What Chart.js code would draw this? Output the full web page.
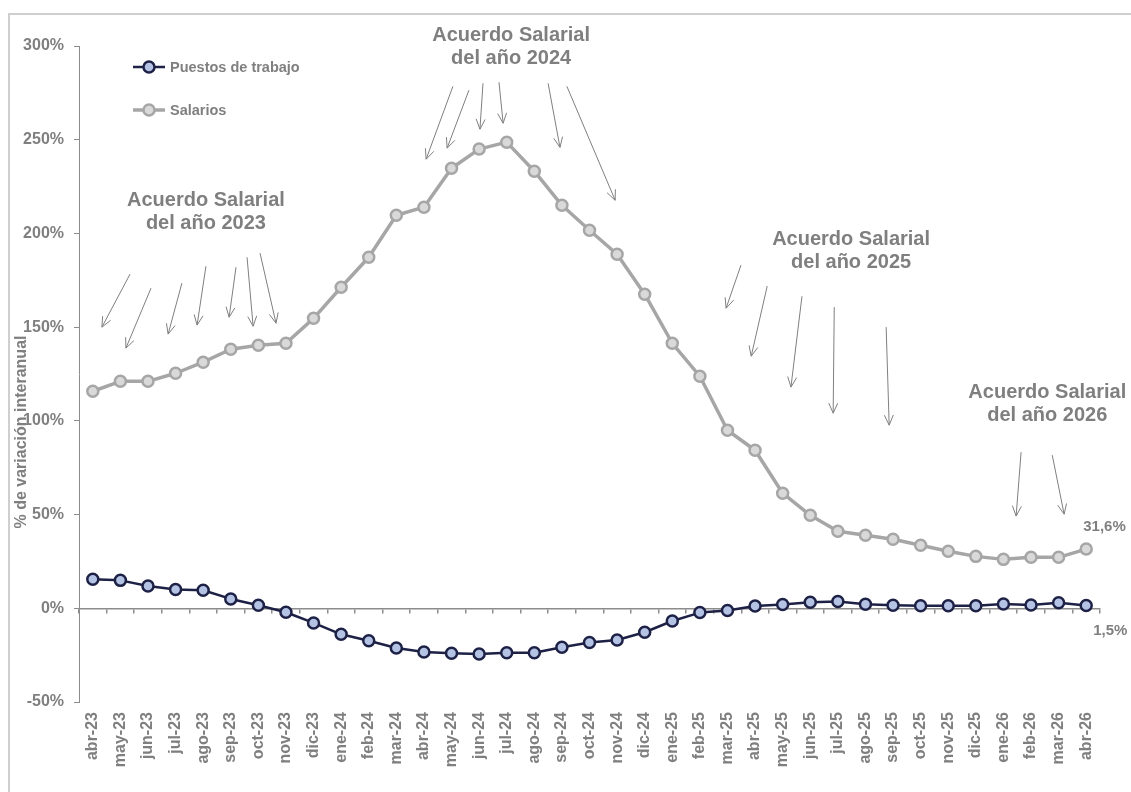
<!DOCTYPE html>
<html lang="es">
<head>
<meta charset="utf-8">
<title>Puestos de trabajo y salarios</title>
<script src="https://cdn.jsdelivr.net/npm/chart.js@4.4.1/dist/chart.umd.min.js"></script>
<style>
  body{margin:0;background:#fff;overflow:hidden}
  #marco{position:absolute;left:8px;top:13px;width:1200px;height:900px;border-left:2px solid #cfcfcf;border-top:2px solid #cfcfcf}
  #grafico{position:absolute;left:0;top:0}
</style>
</head>
<body>
<div id="marco"></div>
<canvas id="grafico" width="1131" height="792"></canvas>
<script>
const meses=['abr-23','may-23','jun-23','jul-23','ago-23','sep-23','oct-23','nov-23','dic-23',
  'ene-24','feb-24','mar-24','abr-24','may-24','jun-24','jul-24','ago-24','sep-24','oct-24','nov-24','dic-24',
  'ene-25','feb-25','mar-25','abr-25','may-25','jun-25','jul-25','ago-25','sep-25','oct-25','nov-25','dic-25',
  'ene-26','feb-26','mar-26','abr-26']

// % de variación interanual
const puestos=[15.5,14.9,11.9,10.0,9.6,5.0,1.6,-2.1,-7.8,
  -13.9,-17.3,-21.2,-23.3,-24.0,-24.4,-23.7,-23.7,-20.8,-18.3,-16.9,-12.8,
  -6.8,-2.3,-1.2,1.2,2.0,3.2,3.6,2.1,1.6,1.4,1.4,1.4,
  2.3,1.8,3.0,1.5]
const salarios=[115.8,121.1,121.1,125.4,131.3,138.2,140.3,141.4,154.7,
  171.3,187.3,209.7,214.0,234.8,245.0,248.7,233.2,215.0,201.7,188.9,167.6,
  141.4,123.8,95.0,84.3,61.4,49.6,41.1,39.0,36.8,33.6,30.4,27.7,
  26.1,27.2,27.2,31.6]

const anios=[2023,2024,2025,2026]

const gris='#7f7f7f'
const ejeColor='#8c8c8c'
const fuente='"Liberation Sans", Arial, sans-serif'

// rótulos de cada acuerdo, en unidades del gráfico (índice de mes, %)
const rotulos=[[4.1,211.6],[15.16,299.6],[27.48,190.5],[34.59,108.9]]

// flechas: mes y % de inicio, mes y % de la punta
const flechas=[
  [1.35,178.3,0.33,150.0],[2.11,170.8,1.20,138.8],[3.23,173.5,2.73,146.3],[4.10,182.5,3.78,151.1],
  [5.19,182.0,4.94,155.3],[5.59,187.3,5.81,150.5],[6.06,189.5,6.64,152.1],
  [13.05,278.5,12.08,239.6],[13.63,276.4,12.84,245.5],[14.14,280.1,14.03,255.6],[14.72,280.7,14.87,258.8],
  [16.50,280.1,16.93,245.9],[17.18,278.5,18.93,217.7],
  [23.49,183.1,22.95,160.1],[24.44,171.9,23.86,134.5],[25.70,166.5,25.30,118.0],[26.87,160.7,26.83,104.1],
  [28.75,150.0,28.86,97.7],
  [33.64,83.3,33.46,49.2],[34.77,81.7,35.20,50.2]
]

function flecha(ctx,x1,y1,x2,y2){
  const a=Math.atan2(y2-y1,x2-x1), l=11, ab=0.42
  ctx.beginPath()
  ctx.moveTo(x1,y1)
  ctx.lineTo(x2,y2)
  ctx.moveTo(x2-l*Math.cos(a-ab),y2-l*Math.sin(a-ab))
  ctx.lineTo(x2,y2)
  ctx.lineTo(x2-l*Math.cos(a+ab),y2-l*Math.sin(a+ab))
  ctx.stroke()
}

function pct(v){
  return v.toFixed(1).replace('.',',')+'%'
}

const anotaciones={
  id:'anotaciones',
  afterDraw(chart){
    const {ctx,chartArea,scales:{x,y}}=chart
    ctx.save()

    // flechas hacia los meses de cada acuerdo
    ctx.strokeStyle=gris
    ctx.lineWidth=1
    for(let f of flechas){
      flecha(ctx,x.getPixelForValue(f[0]),y.getPixelForValue(f[1]),x.getPixelForValue(f[2]),y.getPixelForValue(f[3]))
    }

    ctx.fillStyle=gris
    ctx.textAlign='center'
    ctx.textBaseline='middle'
    ctx.font='bold 20px '+fuente
    rotulos.forEach((r,i)=>{
      const px=x.getPixelForValue(r[0]), py=y.getPixelForValue(r[1])
      ctx.fillText('Acuerdo Salarial',px,py-11.5)
      ctx.fillText('del año '+anios[i],px,py+11.5)
    })

    // leyenda dentro del área
    ctx.font='bold 14.5px '+fuente
    ctx.textAlign='left'
    chart.data.datasets.forEach((ds,i)=>{
      const lx=chartArea.left+54, ly=chartArea.top+21+i*43
      ctx.strokeStyle=ds.borderColor
      ctx.lineWidth=ds.borderWidth
      ctx.beginPath()
      ctx.moveTo(lx,ly)
      ctx.lineTo(lx+32,ly)
      ctx.stroke()
      ctx.beginPath()
      ctx.arc(lx+16,ly,ds.pointRadius,0,Math.PI*2)
      ctx.fillStyle=ds.pointBackgroundColor
      ctx.fill()
      ctx.lineWidth=ds.pointBorderWidth
      ctx.strokeStyle=ds.pointBorderColor
      ctx.stroke()
      ctx.fillStyle=gris
      ctx.fillText(ds.label,lx+37,ly+1)
    })

    // último dato de cada serie
    ctx.font='bold 15px '+fuente
    const pP=chart.getDatasetMeta(0).data[puestos.length-1]
    const pS=chart.getDatasetMeta(1).data[salarios.length-1]
    ctx.fillText(pct(salarios[salarios.length-1]),pS.x-3,pS.y-22)
    ctx.fillText(pct(puestos[puestos.length-1]),pP.x+7,pP.y+25)

    // título del eje vertical
    ctx.font='bold 16px '+fuente
    ctx.translate(22,432)
    ctx.rotate(-Math.PI/2)
    ctx.textAlign='center'
    ctx.fillText('% de variación interanual',0,0)
    ctx.restore()
  }
}

const fuenteEje={family:fuente,size:16,weight:'bold'}

new Chart(document.getElementById('grafico'),{
  type:'line',
  data:{
    labels:meses,
    datasets:[{
      label:'Puestos de trabajo',
      data:puestos,
      borderColor:'#1d2145',
      borderWidth:2.5,
      pointBackgroundColor:'#b4c2e4',
      pointBorderColor:'#1d2145',
      pointBorderWidth:2.5,
      pointRadius:5.5,
      borderJoinStyle:'round'
    },{
      label:'Salarios',
      data:salarios,
      borderColor:'#a6a6a6',
      borderWidth:3.5,
      pointBackgroundColor:'#d9d9d9',
      pointBorderColor:'#a6a6a6',
      pointBorderWidth:2.5,
      pointRadius:5.5,
      borderJoinStyle:'round'
    }]
  },
  options:{
    responsive:false,
    animation:false,
    layout:{padding:{top:46,right:31,left:0,bottom:0}},
    plugins:{legend:{display:false},tooltip:{enabled:false}},
    scales:{
      x:{
        offset:true,
        grid:{display:false,drawTicks:false},
        border:{display:false},
        ticks:{autoSkip:false,minRotation:90,maxRotation:90,padding:10,color:gris,font:fuenteEje},
        afterFit(s){s.height=90}
      },
      // línea del 0% con marcas entre meses
      eje0:{
        axis:'x',
        type:'category',
        position:{y:0},
        offset:true,
        grid:{offset:true,drawOnChartArea:false,tickLength:4,color:ejeColor,lineWidth:1.5},
        border:{color:ejeColor,width:1.5},
        ticks:{display:false}
      },
      y:{
        min:-50,
        max:300,
        ticks:{stepSize:50,padding:10,color:gris,font:fuenteEje,callback:v=>v+'%'},
        grid:{drawOnChartArea:false,tickLength:5,color:ejeColor},
        border:{color:ejeColor},
        afterFit(s){s.width=79}
      }
    }
  },
  plugins:[anotaciones]
})
</script>
</body>
</html>
